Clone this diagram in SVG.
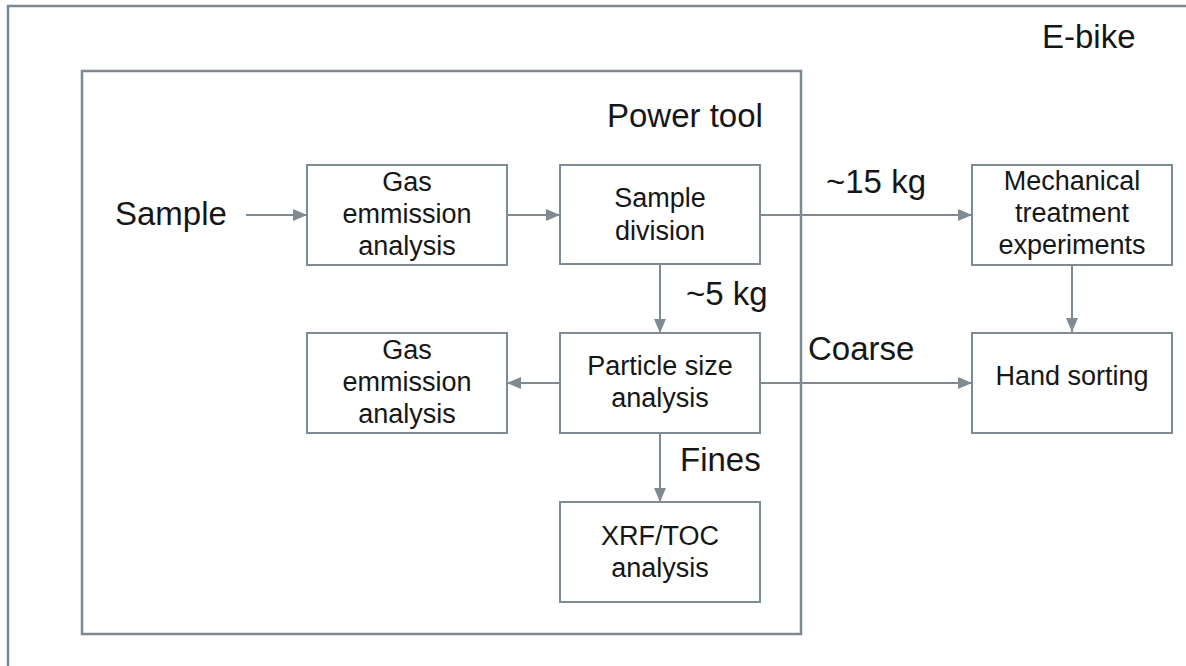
<svg xmlns="http://www.w3.org/2000/svg" width="1186" height="666" viewBox="0 0 1186 666">
  <style>
    .frame { fill: none; stroke: #7d8990; stroke-width: 2.5; }
    .box { fill: #ffffff; stroke: #7f8b93; stroke-width: 2; }
    .conn { fill: none; stroke: #7f8b93; stroke-width: 2; marker-end: url(#arrow); }
    .bt { font-family: "Liberation Sans", Arial, sans-serif; font-size: 27px; fill: #161616; text-anchor: middle; }
    .lbl { font-family: "Liberation Sans", Arial, sans-serif; font-size: 33px; fill: #161616; }
  </style>
  <defs>
    <marker id="arrow" markerUnits="userSpaceOnUse" markerWidth="14" markerHeight="14" viewBox="0 0 14 12" refX="14" refY="6" orient="auto">
      <path d="M0,0 L14,6 L0,12 z" fill="#7f8b93"/>
    </marker>
  </defs>
  <rect width="1186" height="666" fill="#ffffff"/>

  <g id="ebike-frame">
    <rect class="frame" x="8" y="6" width="1200" height="700"/>
    <text class="lbl" x="1042" y="48">E-bike</text>
  </g>
  <g id="powertool-frame">
    <rect class="frame" x="82" y="71" width="719" height="563"/>
    <text class="lbl" x="607" y="127">Power tool</text>
  </g>

  <g id="connectors">
    <line class="conn" x1="246" y1="215" x2="307" y2="215"/>
    <line class="conn" x1="507" y1="215" x2="560" y2="215"/>
    <line class="conn" x1="760" y1="215" x2="972" y2="215"/>
    <line class="conn" x1="660" y1="264" x2="660" y2="333"/>
    <line class="conn" x1="560" y1="383" x2="507" y2="383"/>
    <line class="conn" x1="760" y1="383" x2="972" y2="383"/>
    <line class="conn" x1="1072" y1="265" x2="1072" y2="332"/>
    <line class="conn" x1="660" y1="433" x2="660" y2="502"/>
    <text class="lbl" x="115" y="225">Sample</text>
    <text class="lbl" x="826" y="193">~15 kg</text>
    <text class="lbl" x="686" y="305">~5 kg</text>
    <text class="lbl" x="808" y="360">Coarse</text>
    <text class="lbl" x="680" y="471">Fines</text>
  </g>

  <g id="gas1">
    <rect class="box" x="307" y="165" width="200" height="100"/>
    <text class="bt" x="407" y="191">Gas</text>
    <text class="bt" x="407" y="223">emmission</text>
    <text class="bt" x="407" y="255">analysis</text>
  </g>
  <g id="sample-division">
    <rect class="box" x="560" y="165" width="200" height="99"/>
    <text class="bt" x="660" y="207">Sample</text>
    <text class="bt" x="660" y="240">division</text>
  </g>
  <g id="mechanical">
    <rect class="box" x="972" y="165" width="200" height="100"/>
    <text class="bt" x="1072" y="190">Mechanical</text>
    <text class="bt" x="1072" y="222">treatment</text>
    <text class="bt" x="1072" y="254">experiments</text>
  </g>
  <g id="gas2">
    <rect class="box" x="307" y="333" width="200" height="100"/>
    <text class="bt" x="407" y="359">Gas</text>
    <text class="bt" x="407" y="391">emmission</text>
    <text class="bt" x="407" y="423">analysis</text>
  </g>
  <g id="particle-size">
    <rect class="box" x="560" y="333" width="200" height="100"/>
    <text class="bt" x="660" y="375">Particle size</text>
    <text class="bt" x="660" y="407">analysis</text>
  </g>
  <g id="hand-sorting">
    <rect class="box" x="972" y="333" width="200" height="100"/>
    <text class="bt" x="1072" y="385">Hand sorting</text>
  </g>
  <g id="xrf-toc">
    <rect class="box" x="560" y="502" width="200" height="100"/>
    <text class="bt" x="660" y="545">XRF/TOC</text>
    <text class="bt" x="660" y="577">analysis</text>
  </g>
</svg>
